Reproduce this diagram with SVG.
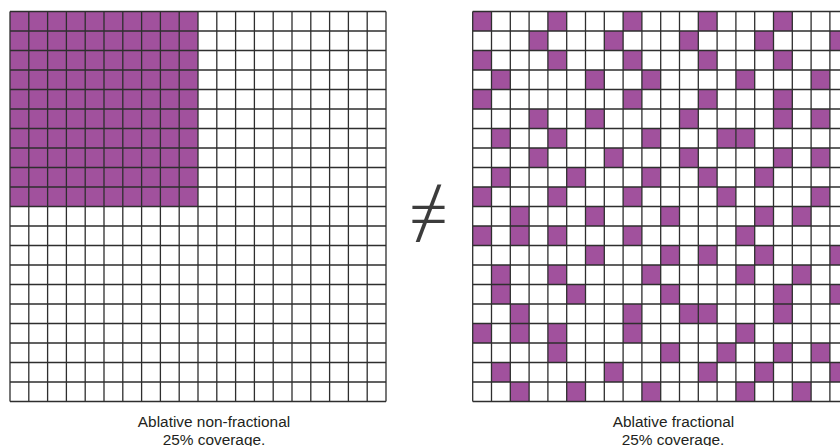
<svg xmlns="http://www.w3.org/2000/svg" xmlns:xlink="http://www.w3.org/1999/xlink" width="840" height="446" viewBox="0 0 840 446">
<style>
.p{fill:#a1519d}
.g{fill:none;stroke:#2e2e2e;stroke-width:1.3}
.lbl{font-family:"Liberation Sans",Arial,sans-serif;font-size:15.4px;fill:#231f20;text-anchor:middle}
.ne{font-family:"Noto Sans","DejaVu Sans",sans-serif;font-weight:300;font-size:70px;fill:#3c3c3c;text-anchor:middle}
</style>
<defs>
<path id="grid" class="g" d="M0 0V390M18.8 0V390M37.6 0V390M56.4 0V390M75.2 0V390M94 0V390M112.8 0V390M131.6 0V390M150.4 0V390M169.2 0V390M188 0V390M206.8 0V390M225.6 0V390M244.4 0V390M263.2 0V390M282 0V390M300.8 0V390M319.6 0V390M338.4 0V390M357.2 0V390M376 0V390M0 0H376M0 19.5H376M0 39H376M0 58.5H376M0 78H376M0 97.5H376M0 117H376M0 136.5H376M0 156H376M0 175.5H376M0 195H376M0 214.5H376M0 234H376M0 253.5H376M0 273H376M0 292.5H376M0 312H376M0 331.5H376M0 351H376M0 370.5H376M0 390H376"/>
<rect id="c" class="p" width="18.8" height="19.5"/>
</defs>
<rect width="840" height="446" fill="#ffffff"/>
<g id="non-fractional" transform="translate(10 11.5)">
<rect class="p" x="0" y="0" width="188" height="195"/>
<use xlink:href="#grid"/>
</g>
<g id="fractional" transform="translate(472.7 11.5)">
<use xlink:href="#c" x="0" y="0"/><use xlink:href="#c" x="75.2" y="0"/><use xlink:href="#c" x="150.4" y="0"/><use xlink:href="#c" x="225.6" y="0"/><use xlink:href="#c" x="300.8" y="0"/>
<use xlink:href="#c" x="56.4" y="19.5"/><use xlink:href="#c" x="131.6" y="19.5"/><use xlink:href="#c" x="206.8" y="19.5"/><use xlink:href="#c" x="282" y="19.5"/><use xlink:href="#c" x="357.2" y="19.5"/>
<use xlink:href="#c" x="0" y="39"/><use xlink:href="#c" x="75.2" y="39"/><use xlink:href="#c" x="150.4" y="39"/><use xlink:href="#c" x="225.6" y="39"/><use xlink:href="#c" x="300.8" y="39"/>
<use xlink:href="#c" x="18.8" y="58.5"/><use xlink:href="#c" x="112.8" y="58.5"/><use xlink:href="#c" x="169.2" y="58.5"/><use xlink:href="#c" x="263.2" y="58.5"/><use xlink:href="#c" x="338.4" y="58.5"/>
<use xlink:href="#c" x="0" y="78"/><use xlink:href="#c" x="150.4" y="78"/><use xlink:href="#c" x="225.6" y="78"/><use xlink:href="#c" x="300.8" y="78"/>
<use xlink:href="#c" x="56.4" y="97.5"/><use xlink:href="#c" x="112.8" y="97.5"/><use xlink:href="#c" x="206.8" y="97.5"/><use xlink:href="#c" x="300.8" y="97.5"/><use xlink:href="#c" x="338.4" y="97.5"/>
<use xlink:href="#c" x="18.8" y="117"/><use xlink:href="#c" x="75.2" y="117"/><use xlink:href="#c" x="169.2" y="117"/><use xlink:href="#c" x="244.4" y="117"/><use xlink:href="#c" x="263.2" y="117"/>
<use xlink:href="#c" x="56.4" y="136.5"/><use xlink:href="#c" x="131.6" y="136.5"/><use xlink:href="#c" x="206.8" y="136.5"/><use xlink:href="#c" x="300.8" y="136.5"/><use xlink:href="#c" x="338.4" y="136.5"/>
<use xlink:href="#c" x="18.8" y="156"/><use xlink:href="#c" x="94" y="156"/><use xlink:href="#c" x="169.2" y="156"/><use xlink:href="#c" x="225.6" y="156"/><use xlink:href="#c" x="282" y="156"/>
<use xlink:href="#c" x="0" y="175.5"/><use xlink:href="#c" x="75.2" y="175.5"/><use xlink:href="#c" x="150.4" y="175.5"/><use xlink:href="#c" x="244.4" y="175.5"/><use xlink:href="#c" x="338.4" y="175.5"/>
<use xlink:href="#c" x="37.6" y="195"/><use xlink:href="#c" x="112.8" y="195"/><use xlink:href="#c" x="188" y="195"/><use xlink:href="#c" x="282" y="195"/><use xlink:href="#c" x="319.6" y="195"/>
<use xlink:href="#c" x="0" y="214.5"/><use xlink:href="#c" x="37.6" y="214.5"/><use xlink:href="#c" x="75.2" y="214.5"/><use xlink:href="#c" x="150.4" y="214.5"/><use xlink:href="#c" x="263.2" y="214.5"/>
<use xlink:href="#c" x="112.8" y="234"/><use xlink:href="#c" x="188" y="234"/><use xlink:href="#c" x="225.6" y="234"/><use xlink:href="#c" x="282" y="234"/><use xlink:href="#c" x="357.2" y="234"/>
<use xlink:href="#c" x="18.8" y="253.5"/><use xlink:href="#c" x="75.2" y="253.5"/><use xlink:href="#c" x="169.2" y="253.5"/><use xlink:href="#c" x="263.2" y="253.5"/><use xlink:href="#c" x="319.6" y="253.5"/>
<use xlink:href="#c" x="18.8" y="273"/><use xlink:href="#c" x="94" y="273"/><use xlink:href="#c" x="188" y="273"/><use xlink:href="#c" x="300.8" y="273"/><use xlink:href="#c" x="357.2" y="273"/>
<use xlink:href="#c" x="37.6" y="292.5"/><use xlink:href="#c" x="150.4" y="292.5"/><use xlink:href="#c" x="206.8" y="292.5"/><use xlink:href="#c" x="225.6" y="292.5"/><use xlink:href="#c" x="300.8" y="292.5"/>
<use xlink:href="#c" x="0" y="312"/><use xlink:href="#c" x="37.6" y="312"/><use xlink:href="#c" x="75.2" y="312"/><use xlink:href="#c" x="150.4" y="312"/><use xlink:href="#c" x="263.2" y="312"/>
<use xlink:href="#c" x="75.2" y="331.5"/><use xlink:href="#c" x="188" y="331.5"/><use xlink:href="#c" x="244.4" y="331.5"/><use xlink:href="#c" x="300.8" y="331.5"/><use xlink:href="#c" x="338.4" y="331.5"/>
<use xlink:href="#c" x="18.8" y="351"/><use xlink:href="#c" x="131.6" y="351"/><use xlink:href="#c" x="225.6" y="351"/><use xlink:href="#c" x="282" y="351"/><use xlink:href="#c" x="357.2" y="351"/>
<use xlink:href="#c" x="37.6" y="370.5"/><use xlink:href="#c" x="94" y="370.5"/><use xlink:href="#c" x="169.2" y="370.5"/><use xlink:href="#c" x="263.2" y="370.5"/><use xlink:href="#c" x="319.6" y="370.5"/>
<use xlink:href="#grid"/>
</g>
<g id="not-equal">
<text class="ne" x="428.5" y="238.5">≠</text>
</g>
<g id="labels">
<text class="lbl" x="214" y="426.7">Ablative non-fractional</text>
<text class="lbl" x="214" y="445">25% coverage.</text>
<text class="lbl" x="673.5" y="426.7">Ablative fractional</text>
<text class="lbl" x="673" y="445">25% coverage.</text>
</g>
</svg>
